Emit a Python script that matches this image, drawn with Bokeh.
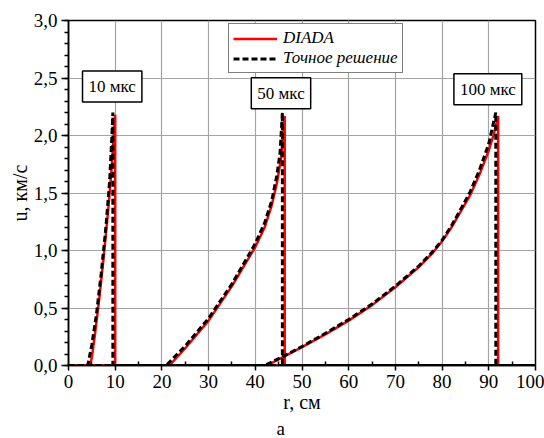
import numpy as np
from bokeh.plotting import figure
from bokeh.models import (Range1d, Label, Legend, LegendItem, FixedTicker,
                          CustomJSTickFormatter, Title)
from bokeh.embed import file_html
from bokeh.resources import INLINE

# ---- data ----
r10_exact = [0, 4.1, 5.0, 6.0, 7.0, 8.0, 8.8, 9.3, 9.5, 9.5, 100]
u10_exact = [0, 0, 0.18, 0.45, 0.80, 1.20, 1.60, 2.00, 2.20, 0, 0]
r10_diada = [0, 4.6, 5.0, 5.6, 6.5, 7.5, 8.5, 9.3, 10.0, 10.0, 100]
u10_diada = [0, 0, 0.07, 0.25, 0.55, 0.93, 1.35, 1.75, 2.18, 0, 0]

r50_exact = [0, 20.9, 25, 30, 35, 40, 42, 43.5, 44.6, 45.3, 45.8, 45.8, 100]
u50_exact = [0, 0, 0.17, 0.41, 0.71, 1.06, 1.24, 1.43, 1.65, 1.85, 2.20, 0, 0]
r50_diada = [0, 21.6, 25, 30, 35, 40, 42, 43.5, 44.7, 45.5, 46.0, 46.3, 46.3, 100]
u50_diada = [0, 0, 0.15, 0.39, 0.69, 1.03, 1.20, 1.39, 1.60, 1.80, 2.00, 2.17, 0, 0]

r100_exact = [0, 42.0, 46, 50, 55, 60, 65, 70, 75, 78, 80, 82, 84, 86, 88, 90, 91.5, 91.5, 100]
u100_exact = [0, 0, 0.08, 0.165, 0.28, 0.40, 0.535, 0.69, 0.865, 0.99, 1.09, 1.215, 1.36, 1.51, 1.70, 1.93, 2.20, 0, 0]
r100_diada = [0, 42.5, 46, 50, 55, 60, 65, 70, 75, 78, 80, 82, 84, 86, 88, 90, 91, 92.0, 92.0, 100]
u100_diada = [0, 0, 0.075, 0.16, 0.27, 0.39, 0.525, 0.68, 0.855, 0.98, 1.08, 1.20, 1.34, 1.48, 1.66, 1.87, 2.00, 2.17, 0, 0]

time_labels = ["10 мкс", "50 мкс", "100 мкс"]
time_label_x = [9.36, 45.5, 89.8]
time_label_y = [2.426, 2.368, 2.403]

series_names = ["DIADA", "Точное решение"]
x_label = "r, см"
y_label = "u, км/с"
panel_label = "а"
x_ticks = [0, 10, 20, 30, 40, 50, 60, 70, 80, 90, 100]
y_ticks = [0, 0.5, 1.0, 1.5, 2.0, 2.5, 3.0]

FONT = "Liberation Serif"
FS = "17px"
TICK_FS = "19px"
AX_FS = "20px"

p = figure(width=544, height=438, output_backend="svg", toolbar_location=None,
           x_range=Range1d(0, 100), y_range=Range1d(0, 3),
           min_border_left=68, min_border_right=9, min_border_top=20,
           min_border_bottom=73)
p.background_fill_color = "white"
p.border_fill_color = "white"
p.outline_line_color = "black"
p.outline_line_width = 1.5

# axes
p.xaxis.ticker = FixedTicker(ticks=x_ticks, minor_ticks=[v + 5 for v in x_ticks[:-1]])
p.yaxis.ticker = FixedTicker(ticks=y_ticks,
                             minor_ticks=[round(i * 0.1, 1) for i in range(31)])
p.yaxis.formatter = CustomJSTickFormatter(code="return tick.toFixed(1).replace('.', ',');")
p.xaxis.formatter = CustomJSTickFormatter(code="return tick.toFixed(0);")
for ax in (p.xaxis[0], p.yaxis[0]):
    ax.axis_line_color = "black"
    ax.axis_line_width = 1.5
    ax.major_tick_line_color = "black"
    ax.minor_tick_line_color = "black"
    ax.major_tick_line_width = 1.5
    ax.minor_tick_line_width = 1.5
    ax.major_label_text_font = FONT
    ax.major_label_text_font_size = TICK_FS
    ax.major_label_text_color = "black"
    ax.axis_label_text_font = FONT
    ax.axis_label_text_font_size = AX_FS
    ax.axis_label_text_font_style = "normal"
    ax.axis_label_text_color = "black"
    ax.axis_label_standoff = 0
p.xaxis.axis_label = x_label
p.yaxis.axis_label = y_label
p.yaxis.major_tick_out = 7
p.yaxis.major_tick_in = 0
p.yaxis.minor_tick_out = 4
p.yaxis.minor_tick_in = 0
p.yaxis.major_label_standoff = 4
p.xaxis.major_tick_out = 5
p.xaxis.major_tick_in = 0
p.xaxis.minor_tick_out = 0
p.xaxis.minor_tick_in = 4
p.xaxis.major_label_standoff = 4

p.xgrid.grid_line_color = "#a4a4a4"
p.ygrid.grid_line_color = "#a4a4a4"
p.xgrid.grid_line_width = 1.2
p.ygrid.grid_line_width = 1.2

# panel letter below the axis title
t = Title(text=panel_label, align="left", offset=208, text_font=FONT,
          text_font_size="19px", text_font_style="normal", text_color="black",
          standoff=0)
p.add_layout(t, "below")

RED = "#ff0000"
red_lines = []
blk_lines = []
for rr, uu in [(r10_diada, u10_diada), (r50_diada, u50_diada), (r100_diada, u100_diada)]:
    red_lines.append(p.line(rr, uu, line_color=RED, line_width=2.5))
for rr, uu in [(r10_exact, u10_exact), (r50_exact, u50_exact), (r100_exact, u100_exact)]:
    blk_lines.append(p.line(rr, uu, line_color="black", line_width=3, line_dash="6 3"))

legend = Legend(items=[LegendItem(label=series_names[0], renderers=[red_lines[0]]),
                       LegendItem(label=series_names[1], renderers=[blk_lines[0]])],
                location=(160, 292))
legend.label_text_font = FONT
legend.label_text_font_style = "italic"
legend.label_text_font_size = FS
legend.label_text_color = "black"
legend.border_line_color = "black"
legend.border_line_width = 1.5
legend.background_fill_color = "white"
legend.background_fill_alpha = 1.0
legend.padding = 4
legend.margin = 0
legend.spacing = 0
legend.glyph_width = 44
legend.glyph_height = 19
legend.label_height = 19
legend.label_standoff = 6
p.add_layout(legend, "center")

for txt, x, y in zip(time_labels, time_label_x, time_label_y):
    p.add_layout(Label(x=x, y=y, text=txt, text_align="center", text_baseline="middle",
                       text_font=FONT, text_font_size=FS, text_color="black",
                       background_fill_color="white", border_line_color="black",
                       border_line_width=1.5, padding=6))

open("out.html", "w").write(file_html(p, INLINE))
